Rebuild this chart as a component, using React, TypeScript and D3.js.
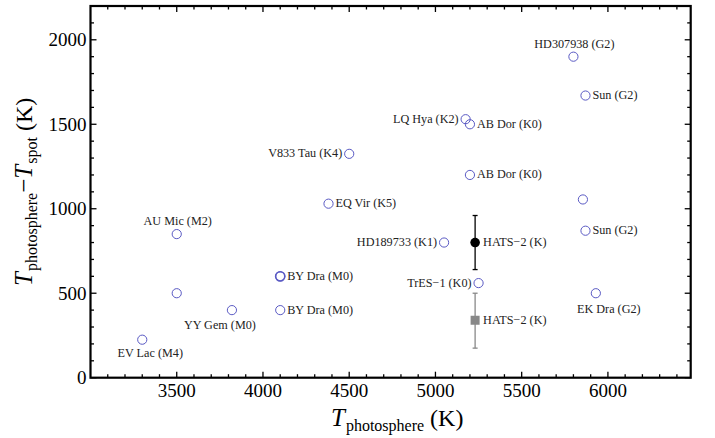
import * as d3 from 'd3'

// star sample: photosphere temperature vs spot temperature contrast
const starNames = [
  'EV Lac (M4)', 'AU Mic (M2)', '', 'YY Gem (M0)', 'BY Dra (M0)', 'BY Dra (M0)',
  'EQ Vir (K5)', 'V833 Tau (K4)', 'LQ Hya (K2)', 'AB Dor (K0)', 'AB Dor (K0)',
  'HD307938 (G2)', 'Sun (G2)', '', 'Sun (G2)', 'HD189733 (K1)', 'TrES-1 (K0)', 'EK Dra (G2)',
]
const tPhot = [3300, 3500, 3500, 3820, 4100, 4100, 4380, 4500, 5175, 5200, 5200, 5800, 5870, 5855, 5870, 5050, 5250, 5930]
const dT = [225, 850, 500, 400, 600, 400, 1030, 1325, 1530, 1500, 1200, 1900, 1670, 1055, 870, 800, 560, 500]
const labelSide = [
  'below', 'above', 'none', 'belowLeft', 'right', 'right',
  'right', 'left', 'left', 'right', 'right',
  'above', 'right', 'none', 'right', 'left', 'left', 'belowRight',
]

// HATS-2 estimates
const hatsName = 'HATS\u22122 (K)'
const hatsT = [5230, 5230]
const hatsDT = [800, 340]
const hatsLo = [640, 175]
const hatsHi = [960, 500]

const xTicks = [3500, 4000, 4500, 5000, 5500, 6000]
const yTicks = [0, 500, 1000, 1500, 2000]

const W = 715
const H = 438
const circleColor = '#5a5ac4'
const serif = '"Liberation Serif", "Times New Roman", serif'

export default function App() {
  const x = d3.scaleLinear().domain([3000, 6480]).range([90.5, 690.7])
  const y = d3.scaleLinear().domain([0, 2200]).range([377.7, 6])
  const [x0, x1] = x.range()
  const [y0, y1] = y.range()

  const xMinor = d3.range(3100, 6480, 100).filter(v => v % 500 !== 0)
  const yMinor = d3.range(100, 2200, 100).filter(v => v % 500 !== 0)

  const label = (i: number) => {
    const px = x(tPhot[i])
    const py = y(dT[i])
    const side = labelSide[i]
    if (side === 'none') return null
    let lx = px, ly = py, anchor: 'start' | 'middle' | 'end' = 'middle'
    if (side === 'right') { lx = px + 7; ly = py + 3.5; anchor = 'start' }
    if (side === 'left') { lx = px - 7; ly = py + 3.5; anchor = 'end' }
    if (side === 'above') { lx = px + 1; ly = py - 9; anchor = 'middle' }
    if (side === 'below') { lx = px + 8; ly = py + 17; anchor = 'middle' }
    if (side === 'belowLeft') { lx = px - 12; ly = py + 19; anchor = 'middle' }
    if (side === 'belowRight') { lx = px + 13; ly = py + 20; anchor = 'middle' }
    return (
      <text key={'l' + i} x={lx} y={ly} textAnchor={anchor} fontSize={12.2} fontFamily={serif} fill="#222">
        {starNames[i].replace('-', '\u2212')}
      </text>
    )
  }

  return (
    <svg width={W} height={H} style={{ position: 'absolute', left: 0, top: 0, background: '#fff' }}>
      {/* ticks, all four sides, pointing inward */}
      {xTicks.map(v => (
        <g key={'xt' + v} stroke="#000" strokeWidth={1.3}>
          <line x1={x(v)} x2={x(v)} y1={y0} y2={y0 - 6} />
          <line x1={x(v)} x2={x(v)} y1={y1} y2={y1 + 6} />
        </g>
      ))}
      {xMinor.map(v => (
        <g key={'xm' + v} stroke="#000" strokeWidth={1.3}>
          <line x1={x(v)} x2={x(v)} y1={y0} y2={y0 - 3.5} />
          <line x1={x(v)} x2={x(v)} y1={y1} y2={y1 + 3.5} />
        </g>
      ))}
      {yTicks.map(v => (
        <g key={'yt' + v} stroke="#000" strokeWidth={1.3}>
          <line x1={x0} x2={x0 + 6} y1={y(v)} y2={y(v)} />
          <line x1={x1} x2={x1 - 6} y1={y(v)} y2={y(v)} />
        </g>
      ))}
      {yMinor.map(v => (
        <g key={'ym' + v} stroke="#000" strokeWidth={1.3}>
          <line x1={x0} x2={x0 + 3.5} y1={y(v)} y2={y(v)} />
          <line x1={x1} x2={x1 - 3.5} y1={y(v)} y2={y(v)} />
        </g>
      ))}
      <rect x={x0} y={y1} width={x1 - x0} height={y0 - y1} fill="none" stroke="#000" strokeWidth={2.2} />

      {/* tick labels */}
      {xTicks.map(v => (
        <text key={'xl' + v} x={x(v)} y={y0 + 19} textAnchor="middle" fontSize={19} fontFamily={serif}>{v}</text>
      ))}
      {yTicks.map(v => (
        <text key={'yl' + v} x={x0 - 4} y={y(v) + 6.5} textAnchor="end" fontSize={19} fontFamily={serif}>{v}</text>
      ))}

      {/* axis titles */}
      <text x={331} y={426} fontFamily={serif}>
        <tspan fontSize={25} fontStyle="italic">T</tspan>
        <tspan fontSize={16} dy={5} dx={1}>photosphere</tspan>
        <tspan fontSize={24} dy={-5}> (K)</tspan>
      </text>
      <text transform={`translate(32, ${(y0 + y1) / 2}) rotate(-90)`} textAnchor="middle" fontFamily={serif}>
        <tspan fontSize={25} fontStyle="italic">T</tspan>
        <tspan fontSize={16} dy={5} dx={1}>photosphere</tspan>
        <tspan fontSize={25} dy={-5}>{'\u2212'}</tspan>
        <tspan fontSize={25} fontStyle="italic">T</tspan>
        <tspan fontSize={16} dy={5} dx={1}>spot</tspan>
        <tspan fontSize={24} dy={-5}> (K)</tspan>
      </text>

      {/* literature stars */}
      {tPhot.map((t, i) => (
        <circle key={'c' + i} cx={x(t)} cy={y(dT[i])} r={4.6} fill="none" stroke={circleColor} strokeWidth={1} />
      ))}
      {/* BY Dra 600 appears doubled */}
      <circle cx={x(tPhot[4])} cy={y(dT[4])} r={4.6} fill="none" stroke={circleColor} strokeWidth={1.6} />
      {tPhot.map((_, i) => label(i))}

      {/* HATS-2 with error bars */}
      {hatsT.map((t, i) => {
        const col = i === 0 ? '#000' : '#888'
        const cx = x(t)
        return (
          <g key={'h' + i}>
            <line x1={cx} x2={cx} y1={y(hatsLo[i])} y2={y(hatsHi[i])} stroke={col} strokeWidth={1.3} />
            <line x1={cx - 2.5} x2={cx + 2.5} y1={y(hatsLo[i])} y2={y(hatsLo[i])} stroke={col} strokeWidth={1.3} />
            <line x1={cx - 2.5} x2={cx + 2.5} y1={y(hatsHi[i])} y2={y(hatsHi[i])} stroke={col} strokeWidth={1.3} />
            {i === 0
              ? <circle cx={cx} cy={y(hatsDT[i])} r={4.8} fill={col} />
              : <rect x={cx - 4.5} y={y(hatsDT[i]) - 4.5} width={9} height={9} fill={col} />}
            <text x={cx + 8} y={y(hatsDT[i]) + 3.5} fontSize={12.2} fontFamily={serif} fill="#222">{hatsName}</text>
          </g>
        )
      })}
    </svg>
  )
}
